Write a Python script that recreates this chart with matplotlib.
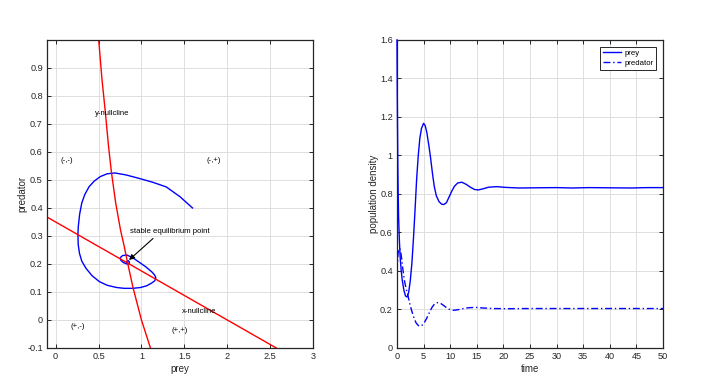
import matplotlib
matplotlib.use("Agg")
import matplotlib.pyplot as plt

plt.rcParams["font.family"] = ["Liberation Sans", "DejaVu Sans"]

# phase plane data
traj_prey = [1.595, 1.45, 1.29, 1.13, 0.98, 0.82, 0.69, 0.6, 0.52, 0.45, 0.39, 0.34, 0.305,
             0.28, 0.265, 0.26, 0.263, 0.278, 0.305, 0.355, 0.425, 0.51, 0.60, 0.71, 0.80, 0.90,
             0.99, 1.06, 1.12, 1.155, 1.168, 1.155, 1.12, 1.05, 0.98, 0.90, 0.83, 0.78, 0.752,
             0.76, 0.79, 0.83, 0.855, 0.86, 0.845, 0.83, 0.835]
traj_pred = [0.400, 0.44, 0.475, 0.492, 0.505, 0.518, 0.525, 0.522, 0.512, 0.496, 0.476, 0.448,
             0.418, 0.378, 0.336, 0.309, 0.27, 0.238, 0.21, 0.184, 0.158, 0.137, 0.124, 0.116,
             0.113, 0.113, 0.116, 0.122, 0.132, 0.140, 0.150, 0.160, 0.172, 0.19, 0.205, 0.222,
             0.232, 0.23, 0.222, 0.213, 0.205, 0.200, 0.200, 0.207, 0.212, 0.208, 0.204]

xnull_x = [-0.1, 3.0]
xnull_y = [0.3675, -0.175]

ynull_x = [0.49, 0.502, 0.54, 0.58, 0.615, 0.65, 0.70, 0.755, 0.80, 0.836, 0.90, 1.0, 1.105, 1.12]
ynull_y = [1.05, 1.0, 0.86, 0.74, 0.625, 0.528, 0.418, 0.323, 0.262, 0.208, 0.118, 0.0, -0.1, -0.115]

# time series data
t_prey = [0.0, 0.05, 0.1, 0.15, 0.2, 0.3, 0.45, 0.6, 0.8, 1.0, 1.3, 1.6, 1.9, 2.2, 2.5, 2.8,
          3.1, 3.4, 3.7, 4.0, 4.3, 4.6, 5.0, 5.3, 5.6, 6.0, 6.3, 6.7, 7.0, 7.4, 7.9, 8.4, 8.8,
          9.3, 9.8, 10.3, 10.8, 11.4, 12.2, 13.0, 13.8, 14.6, 15.3, 16.2, 17.2, 18.7, 20.5,
          23, 26, 30, 33, 36, 40, 44, 47, 50]
prey = [1.60, 1.35, 1.15, 0.98, 0.85, 0.68, 0.56, 0.47, 0.40, 0.35, 0.30, 0.27, 0.265, 0.29,
        0.35, 0.44, 0.57, 0.72, 0.88, 1.00, 1.09, 1.14, 1.167, 1.155, 1.12, 1.05, 0.99, 0.90,
        0.84, 0.79, 0.76, 0.747, 0.745, 0.755, 0.785, 0.815, 0.84, 0.857, 0.861, 0.85, 0.835,
        0.823, 0.821, 0.827, 0.835, 0.838, 0.834, 0.831, 0.832, 0.833, 0.831, 0.833, 0.832,
        0.831, 0.833, 0.833]

t_pred = [0.0, 0.1, 0.2, 0.35, 0.5, 0.7, 0.9, 1.1, 1.4, 1.7, 2.0, 2.4, 2.8, 3.2, 3.6, 4.0,
          4.3, 4.7, 5.1, 5.6, 6.1, 6.6, 7.1, 7.7, 8.3, 8.9, 9.5, 10.1, 10.7, 11.5, 12.5, 13.5,
          14.7, 16, 18, 21, 25, 30, 35, 40, 45, 50]
pred = [0.40, 0.45, 0.49, 0.515, 0.518, 0.50, 0.46, 0.41, 0.35, 0.31, 0.28, 0.23, 0.19, 0.155,
        0.13, 0.117, 0.113, 0.118, 0.13, 0.155, 0.185, 0.212, 0.23, 0.236, 0.23, 0.218, 0.205,
        0.198, 0.196, 0.199, 0.205, 0.209, 0.211, 0.208, 0.205, 0.204, 0.205, 0.205, 0.205,
        0.205, 0.205, 0.205]

left_xticks = [0, 0.5, 1, 1.5, 2, 2.5, 3]
left_yticks = [-0.1, 0, 0.1, 0.2, 0.3, 0.4, 0.5, 0.6, 0.7, 0.8, 0.9]
right_xticks = list(range(0, 51, 5))
right_yticks = [0, 0.2, 0.4, 0.6, 0.8, 1.0, 1.2, 1.4, 1.6]

dark = "#262626"


def style_axes(ax):
    ax.grid(True, color="#dedede", linewidth=0.7)
    ax.set_axisbelow(True)
    for s in ax.spines.values():
        s.set_color(dark)
        s.set_linewidth(0.9)
    ax.tick_params(direction="in", top=True, right=True, length=3, width=0.7,
                   color=dark, labelcolor=dark, labelsize=6.6, pad=3)


def fmt(v):
    return f"{v:g}"


fig = plt.figure(figsize=(7.02, 3.87), dpi=100)

ax1 = fig.add_axes([0.067, 0.1008, 0.379, 0.796])
ax1.plot(traj_prey, traj_pred, color="blue", linewidth=1.0)
ax1.plot(xnull_x, xnull_y, color="red", linewidth=1.0)
ax1.plot(ynull_x, ynull_y, color="red", linewidth=1.0)
ax1.set_xlim(-0.1, 3)
ax1.set_ylim(-0.1, 1.0)
ax1.set_xticks(left_xticks)
ax1.set_xticklabels([fmt(v) for v in left_xticks])
ax1.set_yticks(left_yticks)
ax1.set_yticklabels([fmt(v) for v in left_yticks])
style_axes(ax1)
ax1.set_xlabel("prey", fontsize=7, color=dark, labelpad=2)
ax1.set_ylabel("predator", fontsize=7, color=dark, labelpad=0)

tk = dict(fontsize=5.6, color="black", va="center")
ax1.text(0.455, 0.737, "y-nullcline", ha="left", **tk)
ax1.text(0.125, 0.571, "(-,-)", ha="center", **tk)
ax1.text(1.84, 0.571, "(-,+)", ha="center", **tk)
ax1.text(0.863, 0.315, "stable equilibrium point", ha="left", **tk)
ax1.text(1.67, 0.032, "x-nullcline", ha="center", **tk)
ax1.text(0.253, -0.024, "(+,-)", ha="center", **tk)
ax1.text(1.447, -0.036, "(+,+)", ha="center", **tk)
ax1.annotate("", xy=(0.855, 0.214), xytext=(1.135, 0.291),
             arrowprops=dict(arrowstyle="-|>", color="black", lw=0.8,
                             mutation_scale=8, shrinkA=0, shrinkB=0))

ax2 = fig.add_axes([0.5655, 0.1008, 0.379, 0.796])
ax2.plot(t_prey, prey, color="blue", linewidth=1.0, label="prey", zorder=3, clip_on=False)
ax2.plot(t_pred, pred, color="blue", linewidth=1.0, linestyle=(0, (5, 2, 1, 2)),
         label="predator", zorder=3)
ax2.set_xlim(0, 50)
ax2.set_ylim(0, 1.6)
ax2.set_xticks(right_xticks)
ax2.set_xticklabels([fmt(v) for v in right_xticks])
ax2.set_yticks(right_yticks)
ax2.set_yticklabels([fmt(v) for v in right_yticks])
style_axes(ax2)
ax2.set_xlabel("time", fontsize=7, color=dark, labelpad=2)
ax2.set_ylabel("population density", fontsize=7, color=dark, labelpad=1)
leg = ax2.legend(loc="upper right", fontsize=5.6, fancybox=False, framealpha=1,
                 edgecolor=dark, handlelength=2.3, handletextpad=0.4, borderpad=0.35,
                 labelspacing=0.3, borderaxespad=0, bbox_to_anchor=(0.974, 0.977))
leg.get_frame().set_linewidth(0.7)

fig.savefig("out.png", dpi=100)
